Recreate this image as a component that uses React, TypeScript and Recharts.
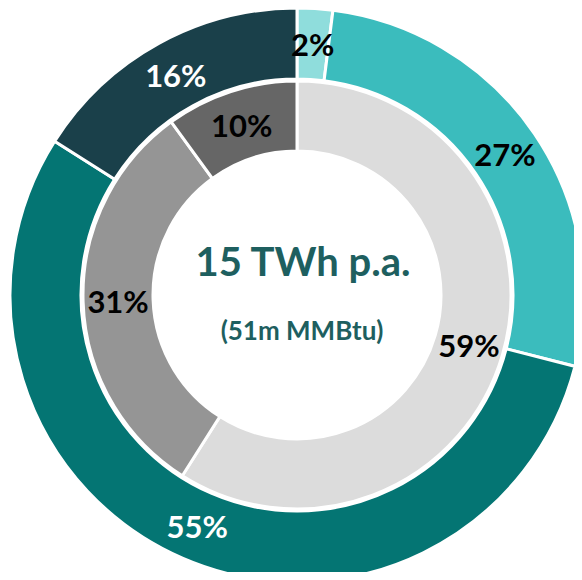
import { PieChart, Pie, Cell } from 'recharts';

const outerNames = ['Outer 1', 'Outer 2', 'Outer 3', 'Outer 4'];
const outerValues = [2, 27, 55, 16];
const outerColors = ['#8fdddc', '#3bbcbd', '#047573', '#1a404a'];
const outerLabelColors = ['#000', '#000', '#fff', '#fff'];

const innerNames = ['Inner 1', 'Inner 2', 'Inner 3'];
const innerValues = [59, 31, 10];
const innerColors = ['#dcdcdc', '#959595', '#666666'];

const totalLabel = '15 TWh p.a.';
const subLabel = '(51m MMBtu)';

const outerData = outerNames.map((name, i) => ({ name, value: outerValues[i] }));
const innerData = innerNames.map((name, i) => ({ name, value: innerValues[i] }));

const RAD = Math.PI / 180;
const FONT = 'Lato, "Open Sans", sans-serif';

function makeLabel(colors: string[]) {
  return (props: any) => {
    const { cx, cy, midAngle, innerRadius, outerRadius, value, index } = props;
    const r = (innerRadius + outerRadius) / 2;
    const x = cx + r * Math.cos(-midAngle * RAD);
    const y = cy + r * Math.sin(-midAngle * RAD);
    return (
      <text
        x={x}
        y={y}
        fill={colors[index]}
        textAnchor="middle"
        dominantBaseline="central"
        fontFamily={FONT}
        fontWeight={700}
        fontSize={31}
      >
        {`${value}%`}
      </text>
    );
  };
}

export default function App() {
  return (
    <div style={{ position: 'relative', width: 582, height: 580, margin: -8, background: '#fff' }}>
      <PieChart width={582} height={580} margin={{ top: 0, right: 0, bottom: 0, left: 0 }}>
        <Pie
          data={outerData}
          dataKey="value"
          cx={297}
          cy={295}
          innerRadius={216}
          outerRadius={287}
          startAngle={90}
          endAngle={-270}
          stroke="#fff"
          strokeWidth={3}
          labelLine={false}
          label={makeLabel(outerLabelColors)}
          isAnimationActive={false}
        >
          {outerData.map((d, i) => (
            <Cell key={d.name} fill={outerColors[i]} />
          ))}
        </Pie>
        <Pie
          data={innerData}
          dataKey="value"
          cx={297}
          cy={295}
          innerRadius={144}
          outerRadius={214}
          startAngle={90}
          endAngle={-270}
          stroke="#fff"
          strokeWidth={3}
          labelLine={false}
          label={makeLabel(['#000', '#000', '#000'])}
          isAnimationActive={false}
        >
          {innerData.map((d, i) => (
            <Cell key={d.name} fill={innerColors[i]} />
          ))}
        </Pie>
      </PieChart>
      <div
        style={{
          position: 'absolute',
          left: 0,
          width: 606,
          top: 236,
          textAlign: 'center',
          fontFamily: FONT,
          fontWeight: 700,
          color: '#1e5f5f',
          fontSize: 40,
          lineHeight: '50px',
        }}
      >
        {totalLabel}
      </div>
      <div
        style={{
          position: 'absolute',
          left: 0,
          width: 604,
          top: 314,
          textAlign: 'center',
          fontFamily: FONT,
          fontWeight: 700,
          color: '#1e5f5f',
          fontSize: 26,
          lineHeight: '32px',
        }}
      >
        {subLabel}
      </div>
    </div>
  );
}
